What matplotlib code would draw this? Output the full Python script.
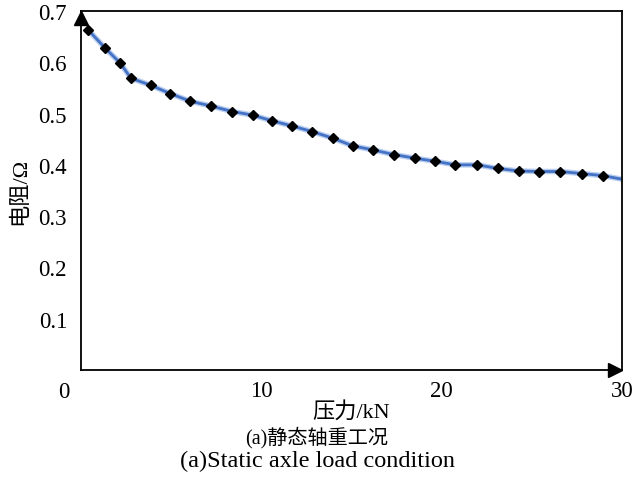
import matplotlib
matplotlib.use("Agg")
import matplotlib.pyplot as plt
from matplotlib.transforms import ScaledTranslation

plt.rcParams['font.family'] = ['Liberation Serif', 'Noto Sans CJK SC']

# pressure (kN) and measured resistance (ohm)
force = [0.40, 1.33, 2.16, 2.77, 3.88, 4.95, 6.06, 7.19, 8.39, 9.52,
         10.58, 11.69, 12.81, 13.96, 15.07, 16.21, 17.36, 18.52, 19.63, 20.76,
         21.98, 23.11, 24.27, 25.42, 26.58, 27.79, 28.94]
resistance = [0.663, 0.628, 0.599, 0.569, 0.555, 0.539, 0.524, 0.515, 0.504, 0.497,
              0.486, 0.476, 0.465, 0.452, 0.437, 0.429, 0.420, 0.413, 0.407, 0.400,
              0.400, 0.393, 0.388, 0.387, 0.387, 0.383, 0.379]
# curve continues to the end of the axis
curve_end = (30, 0.372)

yticks = [0.1, 0.2, 0.3, 0.4, 0.5, 0.6, 0.7]
xticks = [10, 20, 30]

fig = plt.figure(figsize=(6.34, 4.85), dpi=100)
ax = fig.add_axes([81 / 634, 1 - 371 / 485, 541 / 634, 359 / 485])

line_x = force + [curve_end[0]]
line_y = resistance + [curve_end[1]]
ax.plot(line_x, line_y, color='#8fb0e6', lw=4, alpha=0.6, solid_capstyle='round')
ax.plot(line_x, line_y, color='#4472c4', lw=2.0, solid_capstyle='round')
ax.plot(force, resistance, ls='none', marker='D', ms=5.6, color='black')

ax.set_xlim(0, 30)
ax.set_ylim(0, 0.7)
ax.set_xticks(xticks)
ax.set_yticks(yticks)
ax.set_xticklabels([str(t) for t in xticks])
ax.set_yticklabels([f'{t:.1f}' for t in yticks])
ax.tick_params(length=0, labelsize=16.5, pad=7)
ax.tick_params(axis='y', pad=10)
ax.text(-0.95, -0.022, '0', fontsize=16.5, ha='center', va='top')

for s in ax.spines.values():
    s.set_linewidth(1.3)
    s.set_color('black')

# axis arrows
up = ax.transAxes + ScaledTranslation(0, -5 / 72, fig.dpi_scale_trans)
ax.plot([0], [1], marker='^', ms=10, color='black', transform=up, clip_on=False)
right = ax.transAxes + ScaledTranslation(-5 / 72, 0, fig.dpi_scale_trans)
ax.plot([1], [0], marker='>', ms=10, color='black', transform=right, clip_on=False)

ax.set_xlabel('压力/kN', fontsize=16, labelpad=0)
ax.set_ylabel('电阻/Ω', fontsize=16, labelpad=6)

fig.text(0.5, 1 - 438 / 485, '(a)静态轴重工况', fontsize=14.5, ha='center', va='center')
fig.text(0.5, 1 - 461 / 485, '(a)Static axle load condition', fontsize=17.5,
         ha='center', va='center')

fig.savefig('out.png', dpi=100)
